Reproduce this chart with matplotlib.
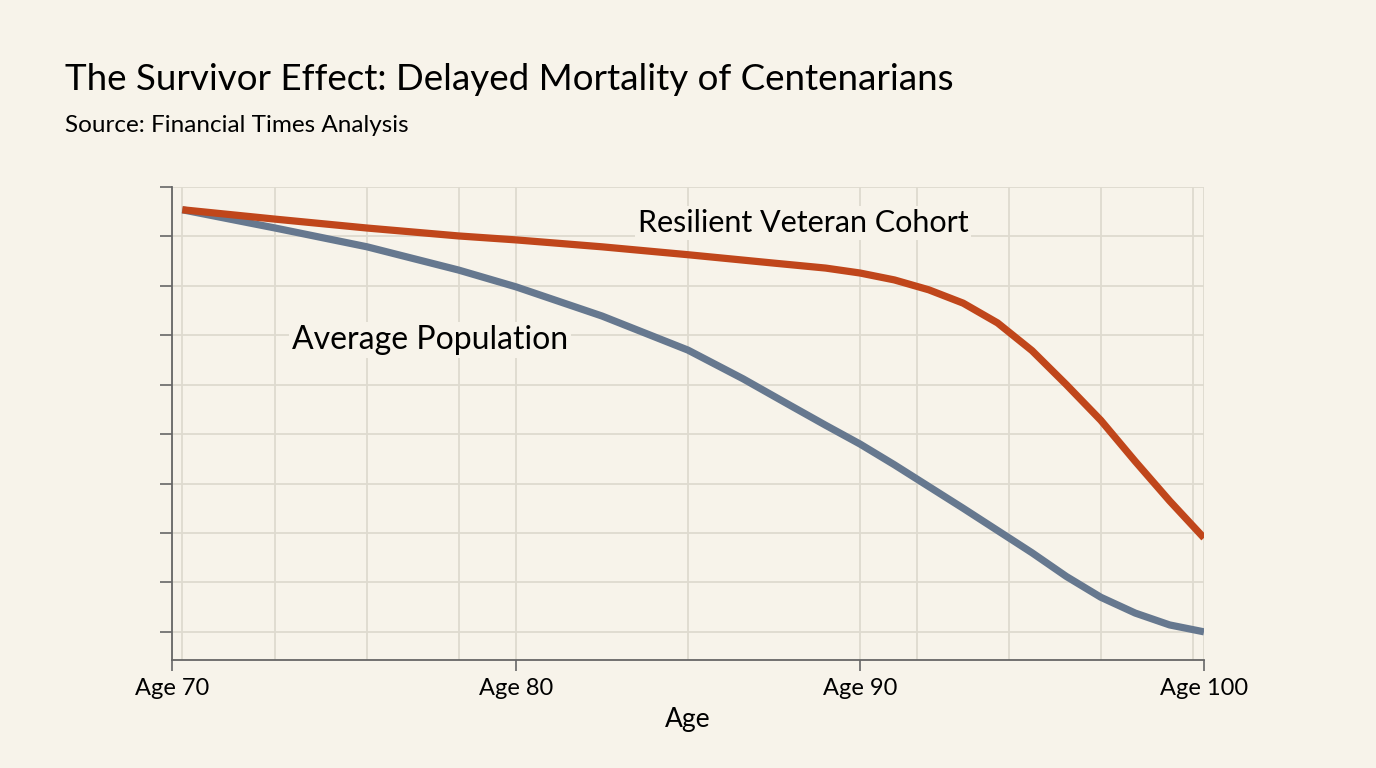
import numpy as np
import matplotlib
matplotlib.use('Agg')
import matplotlib.pyplot as plt
from matplotlib.ticker import FixedLocator

# data (survival index, unlabeled axis)
ages_veteran = [70.3, 73, 75.67, 78.33, 80, 82.5, 85, 87.5, 89, 90, 91, 92, 93, 94, 95,
                96, 97, 98, 99, 100]
veteran = [0.854, 0.835, 0.817, 0.801, 0.793, 0.779, 0.763, 0.746, 0.736, 0.726, 0.712,
           0.692, 0.665, 0.625, 0.569, 0.500, 0.428, 0.345, 0.265, 0.190]

ages_average = [70.3, 73, 75.67, 78.33, 80, 82.5, 85, 86.6, 88, 89, 90, 91, 92, 93, 94,
                95, 96, 97, 98, 99, 100]
average = [0.854, 0.817, 0.779, 0.732, 0.698, 0.639, 0.570, 0.512, 0.457, 0.418, 0.380,
           0.338, 0.294, 0.250, 0.205, 0.160, 0.112, 0.070, 0.038, 0.014, 0.0]

tick_ages = [70, 80, 90, 100]
tick_labels = ['Age 70', 'Age 80', 'Age 90', 'Age 100']
extra_grid_ages = [70.3, 73, 75.67, 78.33, 85, 91.67, 94.33, 97, 99.67]
y_ticks = np.arange(0, 0.95, 0.1)

BG = '#F7F3EA'
GRID = '#DEDACF'
ORANGE = '#C0461B'
BLUE = '#66788F'
FONT = ['Lato', 'DejaVu Sans']

plt.rcParams['font.family'] = FONT

fig = plt.figure(figsize=(13.76, 7.68), dpi=100, facecolor=BG)
ax = fig.add_axes([0.125, 0.1406, 0.75, 0.6159], facecolor=BG)

ax.plot(ages_average, average, color=BLUE, lw=5.2, solid_capstyle='butt',
        solid_joinstyle='round', zorder=3)
ax.plot(ages_veteran, veteran, color=ORANGE, lw=5.2, solid_capstyle='butt',
        solid_joinstyle='round', zorder=4)

ax.set_xlim(70, 100)
ax.set_ylim(-0.057, 0.9)

ax.xaxis.set_major_locator(FixedLocator(tick_ages))
ax.set_xticklabels(tick_labels, fontsize=17)
ax.xaxis.set_minor_locator(FixedLocator(extra_grid_ages))
ax.yaxis.set_major_locator(FixedLocator(y_ticks))
ax.set_yticklabels([])

ax.grid(True, which='both', color=GRID, lw=1.3, zorder=0)
ax.set_axisbelow(True)
ax.tick_params(axis='x', which='major', length=8, width=1.2, color='#666666', pad=5)
ax.tick_params(axis='x', which='minor', length=0)
ax.tick_params(axis='y', length=9, width=1.2, color='#666666')

for side in ['top', 'right']:
    ax.spines[side].set_visible(False)
for side in ['left', 'bottom']:
    ax.spines[side].set_color('#666666')
    ax.spines[side].set_linewidth(1.3)

ax.set_xlabel('Age', fontsize=19, labelpad=6)

ax.text(83.55, 0.827, 'Resilient Veteran Cohort', fontsize=22, va='center', ha='left',
        bbox=dict(facecolor=BG, edgecolor='none', pad=2), zorder=5)
ax.text(73.49, 0.591, 'Average Population', fontsize=23, va='center', ha='left',
        bbox=dict(facecolor=BG, edgecolor='none', pad=2), zorder=5)

fig.text(65 / 1376, 1 - 79 / 768, 'The Survivor Effect: Delayed Mortality of Centenarians',
         fontsize=26.5, va='center', ha='left')
fig.text(65 / 1376, 1 - 125 / 768, 'Source: Financial Times Analysis',
         fontsize=17.5, va='center', ha='left')

fig.savefig('out.png', dpi=100, facecolor=BG)
